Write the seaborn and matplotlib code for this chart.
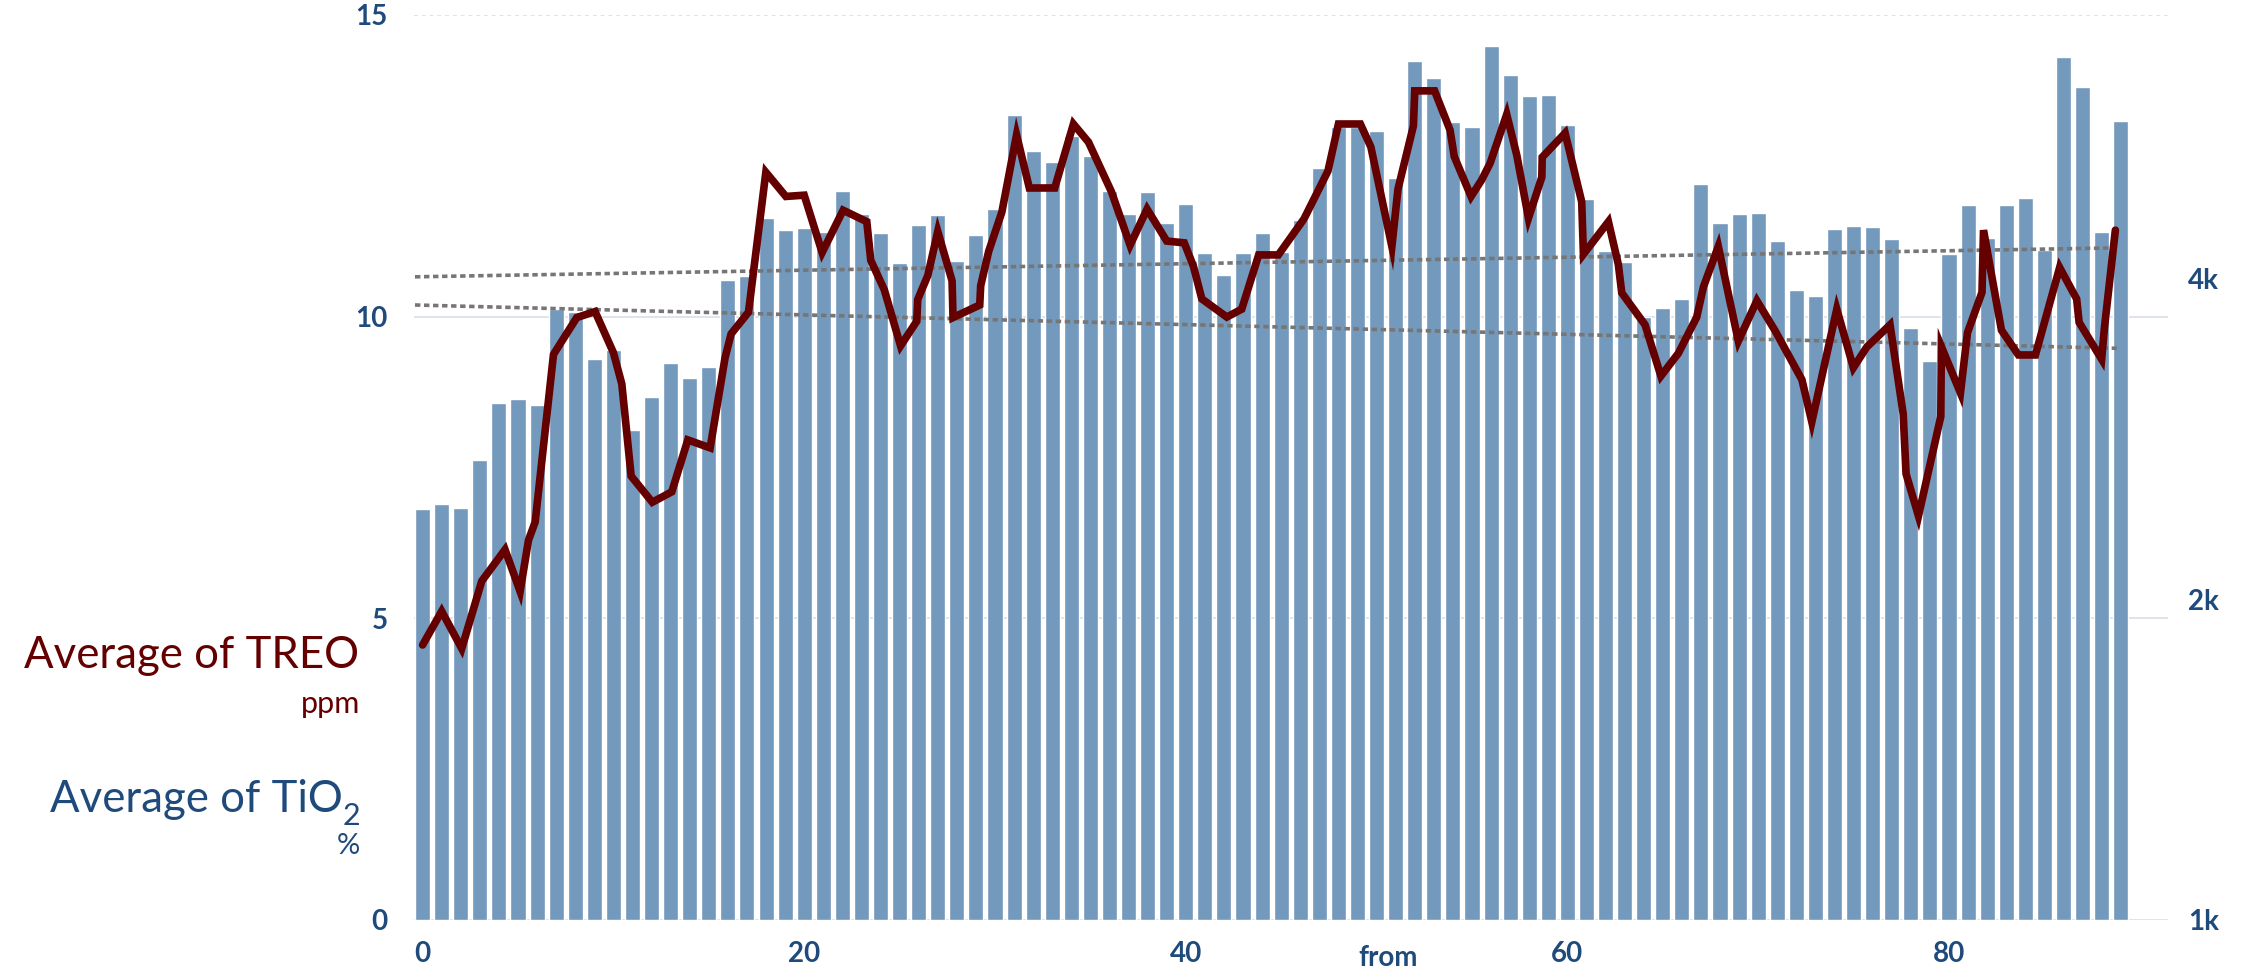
import numpy as np
import pandas as pd
import matplotlib
matplotlib.use("Agg")
import matplotlib.pyplot as plt
import seaborn as sns

# TiO2 bars, one per "from" step
from_m = list(range(90))
tio2 = [6.81, 6.90, 6.83, 7.63, 8.57, 8.63, 8.54, 10.13, 10.08, 9.29,
        9.44, 8.12, 8.66, 9.23, 8.99, 9.17, 10.60, 10.67, 11.64, 11.43,
        11.47, 11.41, 12.08, 11.70, 11.39, 10.89, 11.52, 11.68, 10.93, 11.36,
        11.78, 13.34, 12.74, 12.57, 12.99, 12.66, 12.08, 11.70, 12.06, 11.56,
        11.86, 11.06, 10.69, 11.06, 11.38, 11.07, 11.61, 12.47, 13.15, 13.14,
        13.07, 12.30, 14.24, 13.95, 13.22, 13.15, 14.48, 14.00, 13.65, 13.68,
        13.17, 11.95, 11.08, 10.90, 10.00, 10.15, 10.29, 12.20, 11.55, 11.70,
        11.72, 11.26, 10.44, 10.34, 11.45, 11.50, 11.48, 11.28, 9.81, 9.27,
        11.04, 11.85, 11.30, 11.85, 11.96, 11.10, 14.30, 13.80, 11.41, 13.24]

# TREO line (ppm) and where its points fall along "from"
treo_from = [0.0, 1.0, 2.05, 3.1, 4.32, 5.11, 5.55, 5.9, 6.86, 8.08,
             9.04, 10.0, 10.44, 10.93, 12.04, 13.06, 13.9, 15.07, 15.85, 16.17,
             17.08, 17.99, 19.04, 20.0, 20.94, 22.04, 23.28, 23.49, 24.2, 25.05,
             25.9, 25.95, 26.48, 27.0, 27.75, 27.8, 29.2, 29.25, 29.67, 30.36,
             31.13, 31.8, 33.13, 34.11, 34.9, 36.1, 37.08, 37.97, 39.0, 39.92,
             40.4, 40.84, 42.15, 42.93, 43.82, 44.85, 46.2, 47.45, 48.0, 49.15,
             49.7, 50.8, 51.12, 51.93, 52.0, 53.04, 53.85, 54.07, 54.95, 55.5,
             55.95, 56.82, 57.35, 57.96, 58.66, 58.68, 59.88, 60.75, 60.84, 62.15,
             62.67, 62.85, 64.07, 64.9, 65.82, 66.78, 67.13, 67.91, 68.96, 69.93,
             70.89, 72.29, 72.81, 73.51, 74.12, 74.99, 75.69, 76.91, 77.6, 77.75,
             78.4, 79.57, 79.6, 80.6, 80.97, 81.73, 81.81, 82.75, 83.64, 84.53,
             85.8, 86.69, 86.82, 88.0, 88.15, 88.72]
treo_ppm = [1811, 1948, 1797, 2079, 2225, 2033, 2271, 2362, 3392, 3673,
            3721, 3405, 3183, 2608, 2465, 2521, 2820, 2772, 3366, 3546,
            3716, 5027, 4771, 4784, 4227, 4631, 4518, 4156, 3899, 3455,
            3644, 3819, 4023, 4424, 3976, 3673, 3774, 3935, 4238, 4613,
            5449, 4859, 4859, 5579, 5365, 4821, 4294, 4643, 4333, 4316,
            4103, 3824, 3677, 3740, 4205, 4205, 4547, 5040, 5579, 5579,
            5309, 4283, 4847, 5557, 5993, 5993, 5506, 5200, 4771, 4942,
            5126, 5696, 5213, 4553, 4974, 5193, 5471, 4716, 4211, 4518,
            4119, 3874, 3616, 3237, 3401, 3677, 3925, 4283, 3491, 3809,
            3569, 3212, 2932, 3340, 3740, 3296, 3446, 3616, 2982, 2621,
            2393, 2966, 3450, 3121, 3555, 3879, 4436, 3574, 3388, 3388,
            4092, 3824, 3635, 3357, 3597, 4436]

# trend lines (start / end)
trend_from = [-0.4, 88.8]
tio2_trend = [10.66, 11.14]
treo_trend = [3774, 3437]

x_ticks = [0, 20, 40, 60, 80]
tio2_ticks = [0, 5, 10, 15]
treo_ticks = [1000, 2000, 4000]
treo_labels = ["1k", "2k", "4k"]

BAR = "#7399bd"
RED = "#640000"
BLUE = "#1f4a7c"
TREND = "#767676"

sns.set_style("white")
plt.rcParams["font.family"] = ["Lato", "DejaVu Sans"]

fig = plt.figure(figsize=(22.55, 9.73), dpi=100)
ax = fig.add_axes([0.1836, 0.0545, 0.7780, 0.9301])

bars = pd.DataFrame({"from": from_m, "TiO2": tio2})
sns.barplot(data=bars, x="from", y="TiO2", native_scale=True, color=BAR,
            saturation=1, width=0.79, errorbar=None, ax=ax, zorder=2)
ax.plot(trend_from, tio2_trend, color=TREND, lw=2.6, ls=(0, (1.5, 1.0)), zorder=3)

ax.set_xlim(-0.45, 91.5)
ax.set_ylim(0, 15)
ax.set_yticks(tio2_ticks)
ax.set_xticks(x_ticks)
ax.grid(axis="y", color="#dfe3ea", lw=1.4)
ax.set_axisbelow(True)
ax.get_ygridlines()[-1].set_linestyle((0, (2, 2)))
ax.tick_params(axis="y", length=0, pad=19, labelsize=20, labelcolor=BLUE)
ax.tick_params(axis="x", length=0, pad=15, labelsize=20, labelcolor=BLUE)
for lab in ax.get_xticklabels() + ax.get_yticklabels():
    lab.set_fontweight("bold")
ax.set_ylabel("")
ax.set_xlabel("from", fontsize=20, fontweight="bold", color=BLUE)
ax.xaxis.label.set_va("center")
ax.xaxis.set_label_coords(0.555, -0.042)
for s in ax.spines.values():
    s.set_visible(False)

ax2 = ax.twinx()
ax2.set_yscale("log")
ax2.plot(trend_from, treo_trend, color=TREND, lw=2.6, ls=(0, (1.5, 1.0)), zorder=2)
sns.lineplot(x=treo_from, y=treo_ppm, ax=ax2, color=RED, lw=5.5, sort=False,
             estimator=None, zorder=4)
ax2.lines[-1].set_solid_joinstyle("miter")
ax2.set_ylim(1000, 7060)
ax2.set_yticks(treo_ticks)
ax2.set_yticklabels(treo_labels)
ax2.minorticks_off()
ax2.tick_params(axis="y", which="both", length=0, pad=14, labelsize=20, labelcolor=BLUE)
for lab in ax2.get_yticklabels():
    lab.set_fontweight("bold")
ax2.set_ylabel("")
for s in ax2.spines.values():
    s.set_visible(False)

# axis titles on the left
fig.text(359 / 2255, 1 - 656 / 973, "Average of TREO", ha="right", va="center",
         fontsize=31.5, color=RED)
fig.text(360 / 2255, 1 - 704 / 973, "ppm", ha="right", va="center",
         fontsize=22, color=RED)
fig.text(343 / 2255, 1 - 800 / 973, "Average of TiO", ha="right", va="center",
         fontsize=31.5, color=BLUE)
fig.text(360 / 2255, 1 - 816 / 973, "2", ha="right", va="center",
         fontsize=22, color=BLUE)
fig.text(360 / 2255, 1 - 846 / 973, "%", ha="right", va="center",
         fontsize=21, color=BLUE)

fig.savefig("out.png", dpi=100, facecolor="white")
